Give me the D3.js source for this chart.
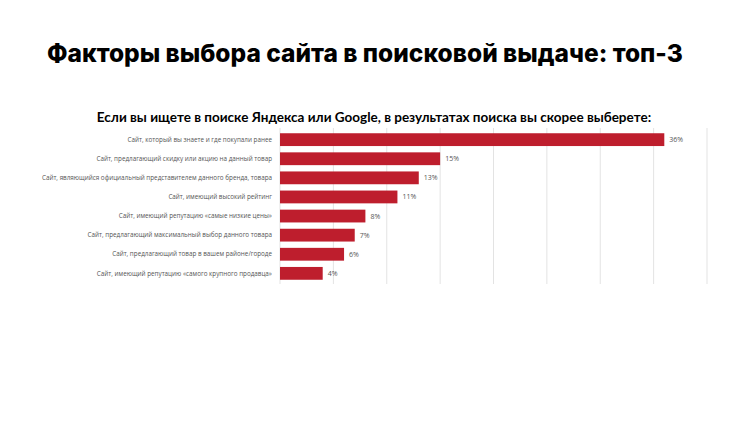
<!DOCTYPE html>
<html><head><meta charset="utf-8">
<script src="https://cdn.jsdelivr.net/npm/d3@7"></script>
<style>body{margin:0;background:#fff}</style></head>
<body><svg id="c" width="750" height="421"></svg>
<script>
const categories=["Сайт, который вы знаете и где покупали ранее","Сайт, предлагающий скидку или акцию на данный товар","Сайт, являющийся официальный представителем данного бренда, товара","Сайт, имеющий высокий рейтинг","Сайт, имеющий репутацию «самые низкие цены»","Сайт, предлагающий максимальный выбор данного товара","Сайт, предлагающий товар в вашем районе/городе","Сайт, имеющий репутацию «самого крупного продавца»"];
const values=[36,15,13,11,8,7,6,4];
const ticks=[0,5,10,15,20,25,30,35,40];
const svg=d3.select("#c");
svg.append("text").attr("x",47).attr("y",62).attr("font-family","Inter, 'Open Sans', sans-serif").attr("font-weight",800).attr("font-size",24.5).attr("fill","#000").text("Факторы выбора сайта в поисковой выдаче: топ-3");
svg.append("text").attr("x",374).attr("y",122).attr("text-anchor","middle").attr("font-family","Lato, 'Open Sans', sans-serif").attr("font-weight",700).attr("font-size",13.5).attr("fill","#000").text("Если вы ищете в поиске Яндекса или Google, в результатах поиска вы скорее выберете:");
const x=d3.scaleLinear().domain([0,40]).range([280,707]);
const y=d3.scaleBand().domain(categories).range([130,283]).paddingInner(0.33).paddingOuter(0.17);
svg.append("g").selectAll("line").data(ticks).join("line").attr("x1",d=>x(d)).attr("x2",d=>x(d)).attr("y1",128).attr("y2",284).attr("stroke","#e3e3e3").attr("stroke-width",1);
svg.append("g").selectAll("rect").data(values).join("rect").attr("x",x(0)).attr("y",(d,i)=>y(categories[i])).attr("width",d=>x(d)-x(0)).attr("height",y.bandwidth()).attr("fill","#be1e2d");
svg.append("g").selectAll("text").data(values).join("text").attr("x",d=>x(d)+5).attr("y",(d,i)=>y(categories[i])+y.bandwidth()/2).attr("dy","0.35em").attr("font-family","'Open Sans', sans-serif").attr("font-size",7).attr("fill","#555").text(d=>d+"%");
svg.append("g").selectAll("text").data(categories).join("text").attr("x",272).attr("y",d=>y(d)+y.bandwidth()/2).attr("dy","0.35em").attr("text-anchor","end").attr("font-family","'Open Sans', sans-serif").attr("font-size",6.3).attr("fill","#555").text(d=>d);
</script></body></html>
